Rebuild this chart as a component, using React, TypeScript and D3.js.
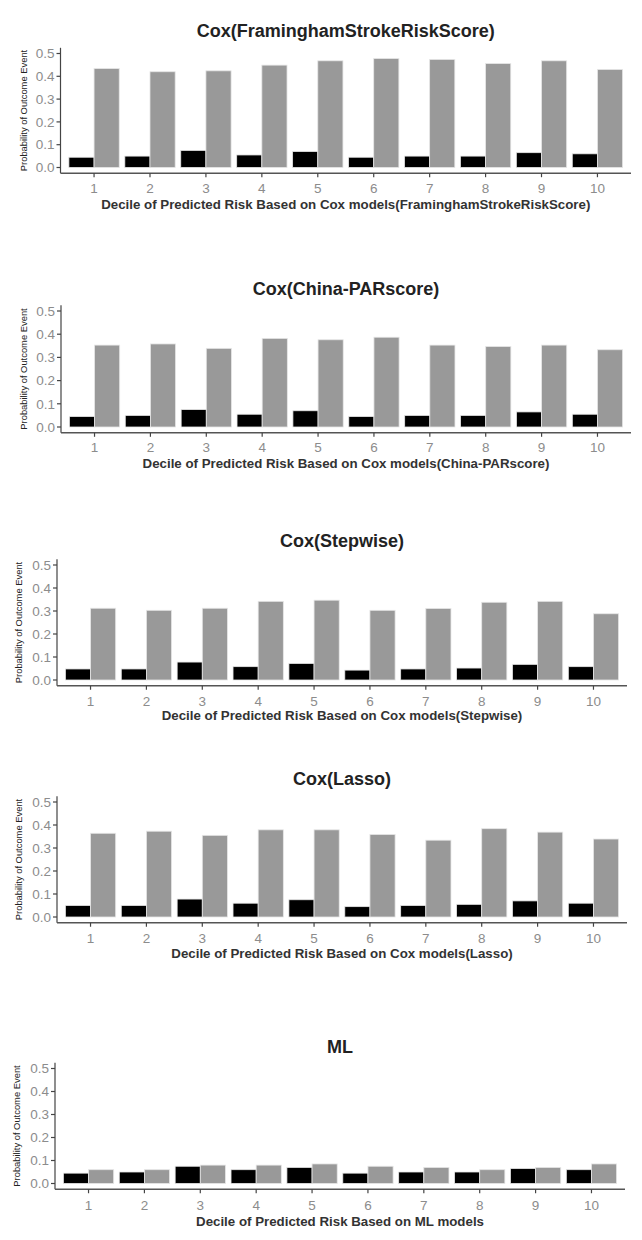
import React from "react";
import * as d3 from "d3";

// ---- data ----
const deciles = [1, 2, 3, 4, 5, 6, 7, 8, 9, 10];
const yTickValues = [0, 0.1, 0.2, 0.3, 0.4, 0.5];

const titles = [
  "Cox(FraminghamStrokeRiskScore)",
  "Cox(China-PARscore)",
  "Cox(Stepwise)",
  "Cox(Lasso)",
  "ML",
];
const xLabels = [
  "Decile of Predicted Risk Based on Cox models(FraminghamStrokeRiskScore)",
  "Decile of Predicted Risk Based on Cox models(China-PARscore)",
  "Decile of Predicted Risk Based on Cox models(Stepwise)",
  "Decile of Predicted Risk Based on Cox models(Lasso)",
  "Decile of Predicted Risk Based on ML models",
];
const yLabel = "Probability of Outcome Event";

const observedFramingham = [0.045, 0.05, 0.075, 0.055, 0.07, 0.045, 0.05, 0.05, 0.065, 0.06];
const predictedFramingham = [0.434, 0.42, 0.424, 0.449, 0.468, 0.478, 0.474, 0.456, 0.468, 0.43];
const observedChinaPAR = [0.045, 0.05, 0.075, 0.055, 0.07, 0.045, 0.05, 0.05, 0.065, 0.055];
const predictedChinaPAR = [0.353, 0.358, 0.339, 0.382, 0.376, 0.387, 0.353, 0.347, 0.353, 0.333];
const observedStepwise = [0.048, 0.048, 0.078, 0.058, 0.072, 0.043, 0.048, 0.052, 0.068, 0.058];
const predictedStepwise = [0.312, 0.303, 0.312, 0.342, 0.347, 0.303, 0.311, 0.338, 0.342, 0.288];
const observedLasso = [0.05, 0.05, 0.078, 0.06, 0.075, 0.045, 0.05, 0.055, 0.07, 0.06];
const predictedLasso = [0.364, 0.373, 0.355, 0.379, 0.379, 0.359, 0.334, 0.384, 0.369, 0.339];
const observedML = [0.045, 0.05, 0.075, 0.06, 0.07, 0.045, 0.05, 0.05, 0.065, 0.06];
const predictedML = [0.06, 0.06, 0.08, 0.08, 0.085, 0.075, 0.07, 0.06, 0.07, 0.085];

const observedSeries = [observedFramingham, observedChinaPAR, observedStepwise, observedLasso, observedML];
const predictedSeries = [predictedFramingham, predictedChinaPAR, predictedStepwise, predictedLasso, predictedML];

// ---- layout (pixel geometry of each panel) ----
const LAYOUT = [
  { left: 60.5, right: 631, y0: 167.5, y05: 53.5, titleY: 37, tickY: 193, xlabY: 208.5, ylabX: 27 },
  { left: 61, right: 631, y0: 427, y05: 311, titleY: 295, tickY: 452, xlabY: 468, ylabX: 27 },
  { left: 57, right: 627, y0: 680, y05: 565, titleY: 547, tickY: 706, xlabY: 720, ylabX: 22 },
  { left: 57, right: 627, y0: 917, y05: 802, titleY: 785, tickY: 943, xlabY: 958, ylabX: 22 },
  { left: 55, right: 625, y0: 1183.5, y05: 1068.5, titleY: 1053, tickY: 1210, xlabY: 1226, ylabX: 20 },
];

const FONT = "'Liberation Sans', Arial, Helvetica, sans-serif";
const BAR_W = 0.45;
const fmt = d3.format(".1f");

function Panel({ idx }: { idx: number }) {
  const L = LAYOUT[idx];
  const x = d3.scaleLinear().domain([0.4, 10.6]).range([L.left, L.right]);
  const y = d3.scaleLinear().domain([0, 0.5]).range([L.y0, L.y05]);
  const obs = observedSeries[idx];
  const pred = predictedSeries[idx];
  const axisBottom = y(-0.025);
  const axisTop = y(0.525);
  const cx = (L.left + L.right) / 2;
  const cy = (axisTop + axisBottom) / 2;
  return (
    <g>
      <text x={cx} y={L.titleY} textAnchor="middle" fontFamily={FONT} fontWeight="bold" fontSize={18} fill="#222">
        {titles[idx]}
      </text>
      {deciles.map((d, i) => (
        <g key={d}>
          <rect
            x={x(d - BAR_W)}
            y={y(obs[i])}
            width={x(d) - x(d - BAR_W)}
            height={y(0) - y(obs[i])}
            fill="#000"
            stroke="#e6e6e6"
            strokeWidth={0.8}
          />
          <rect
            x={x(d)}
            y={y(pred[i])}
            width={x(d + BAR_W) - x(d)}
            height={y(0) - y(pred[i])}
            fill="#999"
            stroke="#e6e6e6"
            strokeWidth={0.8}
          />
        </g>
      ))}
      {/* y axis */}
      <line x1={L.left} x2={L.left} y1={axisTop} y2={axisBottom} stroke="#444" strokeWidth={1.2} />
      {yTickValues.map((t) => (
        <g key={t}>
          <line x1={L.left - 4} x2={L.left} y1={y(t)} y2={y(t)} stroke="#444" strokeWidth={1.2} />
          <text
            x={L.left - 6}
            y={y(t)}
            dy="0.35em"
            textAnchor="end"
            fontFamily={FONT}
            fontSize={13.5}
            fill="#8c8c8c"
          >
            {fmt(t)}
          </text>
        </g>
      ))}
      {/* x axis */}
      <line x1={L.left} x2={L.right} y1={axisBottom} y2={axisBottom} stroke="#555" strokeWidth={1.6} />
      {deciles.map((d) => (
        <g key={d}>
          <line x1={x(d)} x2={x(d)} y1={axisBottom} y2={axisBottom + 4} stroke="#444" strokeWidth={1.2} />
          <text x={x(d)} y={L.tickY} textAnchor="middle" fontFamily={FONT} fontSize={13.5} fill="#8c8c8c">
            {d}
          </text>
        </g>
      ))}
      <text x={cx} y={L.xlabY} textAnchor="middle" fontFamily={FONT} fontWeight="bold" fontSize={13.3} fill="#333">
        {xLabels[idx]}
      </text>
      <text
        transform={`translate(${L.ylabX},${cy}) rotate(-90)`}
        textAnchor="middle"
        fontFamily={FONT}
        fontSize={9.4}
        fill="#222"
      >
        {yLabel}
      </text>
    </g>
  );
}

export default function App() {
  return (
    <svg
      width={642}
      height={1240}
      style={{ position: "absolute", left: 0, top: 0, background: "#fff" }}
    >
      <rect x={0} y={0} width={642} height={1240} fill="#fff" />
      {LAYOUT.map((_, i) => (
        <Panel key={i} idx={i} />
      ))}
    </svg>
  );
}
